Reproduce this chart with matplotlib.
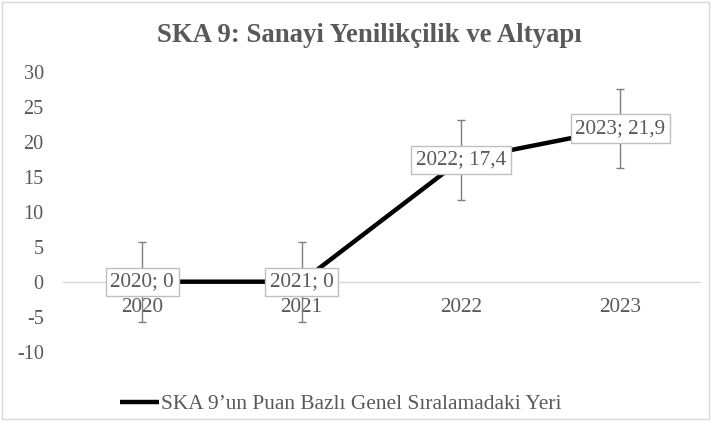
import matplotlib
matplotlib.use("Agg")
import matplotlib.pyplot as plt
from matplotlib.patches import Rectangle

years = ["2020", "2021", "2022", "2023"]
values = [0, 0, 17.4, 21.9]
errors = [5.7, 5.7, 5.7, 5.7]
yticks = [-10, -5, 0, 5, 10, 15, 20, 25, 30]
title = "SKA 9: Sanayi Yenilikçilik ve Altyapı"
series_name = "SKA 9\u2019un Puan Bazlı Genel Sıralamadaki Yeri"

plt.rcParams["font.family"] = ["Liberation Serif", "DejaVu Serif"]
TXT = "#595959"
FS = 15.2

fig = plt.figure(figsize=(7.11, 4.22), dpi=100)
ax = fig.add_axes([62.5 / 711, (422 - 351.7) / 422, (700 - 62.5) / 711, 280 / 422])

x = list(range(len(years)))
line, = ax.plot(x, values, color="black", lw=3.2, zorder=2, solid_capstyle="butt")
ax.errorbar(x, values, yerr=errors, fmt="none", ecolor="#7f7f7f",
            elinewidth=1, capsize=3, capthick=1, zorder=3)

for xi, yr, v in zip(x, years, values):
    lab = f"{yr}; {v:g}".replace(".", ",")
    ax.text(xi, v, lab, ha="center", va="center", fontsize=FS, color=TXT, zorder=6,
            bbox=dict(boxstyle="square,pad=0.22", fc="white", ec="#bfbfbf", lw=1))

ax.set_xlim(-0.5, len(years) - 0.5)
ax.set_ylim(-10, 30)
ax.set_yticks(yticks)
ax.set_yticklabels([str(t) for t in yticks])
ax.set_xticks(x)
ax.set_xticklabels(years)
ax.tick_params(axis="y", length=0, pad=13.5, labelsize=14.6, labelcolor=TXT)
ax.tick_params(axis="x", length=0, pad=12, labelsize=FS, labelcolor=TXT)
for s in ["left", "right", "top"]:
    ax.spines[s].set_visible(False)
ax.spines["bottom"].set_position(("data", 0))
ax.spines["bottom"].set_color("#d9d9d9")
ax.spines["bottom"].set_linewidth(1)
ax.spines["bottom"].set_zorder(1)
ax.set_facecolor("none")

fig.text(369.5 / 711, 1 - 41.7 / 422, title, ha="center", va="baseline",
         fontsize=19.3, fontweight="bold", color=TXT)

fig.legend([line], [series_name], loc="center left",
           bbox_to_anchor=(120 / 711, 1 - 404 / 422), frameon=False,
           fontsize=15.4, handlelength=1.82, handletextpad=0.1, borderpad=0,
           borderaxespad=0, labelcolor=TXT)

fig.patches.append(Rectangle((2 / 711, 3 / 422), 707 / 711, 417 / 422,
                             transform=fig.transFigure, fill=False,
                             ec="#d9d9d9", lw=1))

fig.savefig("out.png", dpi=100)
